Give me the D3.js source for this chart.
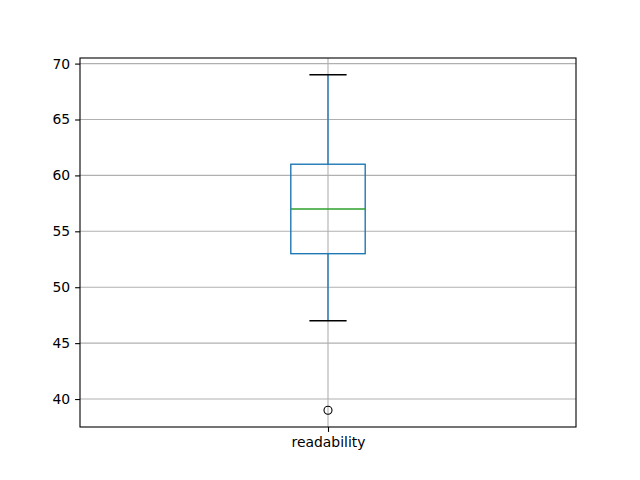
<!DOCTYPE html>
<html><head><meta charset="utf-8">
<script src="https://cdn.jsdelivr.net/npm/d3@7"></script>
<style>body{margin:0;background:#fff}svg{display:block}</style>
</head><body>
<svg id="c" width="640" height="480"></svg>
<script>
const categories = ["readability"];
const q1 = [53];
const median = [57];
const q3 = [61];
const whiskerLow = [47];
const whiskerHigh = [69];
const outliers = [[39]];
const yTicks = [40, 45, 50, 55, 60, 65, 70];

const svg = d3.select("#c");
const L = 80, R = 576, T = 58, B = 427;
const x = d3.scaleLinear().domain([0.5, categories.length + 0.5]).range([L, R]);
const y = d3.scaleLinear().domain([37.5, 70.5]).range([B, T]);
const font = "DejaVu Sans, sans-serif";
const blue = "#1f77b4", green = "#2ca02c";
const lw = 1.39;

// grid
const g = svg.append("g");
g.selectAll("line.gy").data(yTicks).join("line")
  .attr("x1", L).attr("x2", R).attr("y1", d => y(d)).attr("y2", d => y(d))
  .attr("stroke", "#b0b0b0").attr("stroke-width", 1.1);
g.selectAll("line.gx").data(categories).join("line")
  .attr("x1", (d, i) => x(i + 1)).attr("x2", (d, i) => x(i + 1)).attr("y1", T).attr("y2", B)
  .attr("stroke", "#b0b0b0").attr("stroke-width", 1.1);

const bw = 0.15, cw = 0.075;
categories.forEach((c, i) => {
  const p = i + 1;
  const bx = svg.append("g");
  // whiskers
  bx.append("line").attr("x1", x(p)).attr("x2", x(p)).attr("y1", y(q1[i])).attr("y2", y(whiskerLow[i]))
    .attr("stroke", blue).attr("stroke-width", lw);
  bx.append("line").attr("x1", x(p)).attr("x2", x(p)).attr("y1", y(q3[i])).attr("y2", y(whiskerHigh[i]))
    .attr("stroke", blue).attr("stroke-width", lw);
  // caps
  [whiskerLow[i], whiskerHigh[i]].forEach(v => {
    bx.append("line").attr("x1", x(p - cw / 2)).attr("x2", x(p + cw / 2)).attr("y1", y(v)).attr("y2", y(v))
      .attr("stroke", "#000").attr("stroke-width", lw);
  });
  // box
  bx.append("rect").attr("x", x(p - bw / 2)).attr("width", x(p + bw / 2) - x(p - bw / 2))
    .attr("y", y(q3[i])).attr("height", y(q1[i]) - y(q3[i]))
    .attr("fill", "none").attr("stroke", blue).attr("stroke-width", lw);
  // median
  bx.append("line").attr("x1", x(p - bw / 2)).attr("x2", x(p + bw / 2)).attr("y1", y(median[i])).attr("y2", y(median[i]))
    .attr("stroke", green).attr("stroke-width", lw);
  // outliers
  bx.selectAll("circle").data(outliers[i]).join("circle")
    .attr("cx", x(p)).attr("cy", d => y(d)).attr("r", 4)
    .attr("fill", "none").attr("stroke", "#000").attr("stroke-width", 1.1);
});

// axes
const ya = svg.append("g").attr("transform", `translate(${L},0)`)
  .call(d3.axisLeft(y).tickValues(yTicks).tickSize(4.9).tickPadding(4.9).tickFormat(d3.format("d")));
const xa = svg.append("g").attr("transform", `translate(0,${B})`)
  .call(d3.axisBottom(x).tickValues(categories.map((c, i) => i + 1)).tickSize(4.9).tickPadding(4.9)
    .tickFormat((d) => categories[d - 1]));
[ya, xa].forEach(a => {
  a.select(".domain").remove();
  a.selectAll("line").attr("stroke", "#000").attr("stroke-width", 1.1);
  a.selectAll("text").attr("font-family", font).attr("font-size", "13.9px").attr("fill", "#000");
});
svg.append("rect").attr("x", L).attr("y", T).attr("width", R - L).attr("height", B - T)
  .attr("fill", "none").attr("stroke", "#000").attr("stroke-width", 1.1);
</script>
</body></html>
